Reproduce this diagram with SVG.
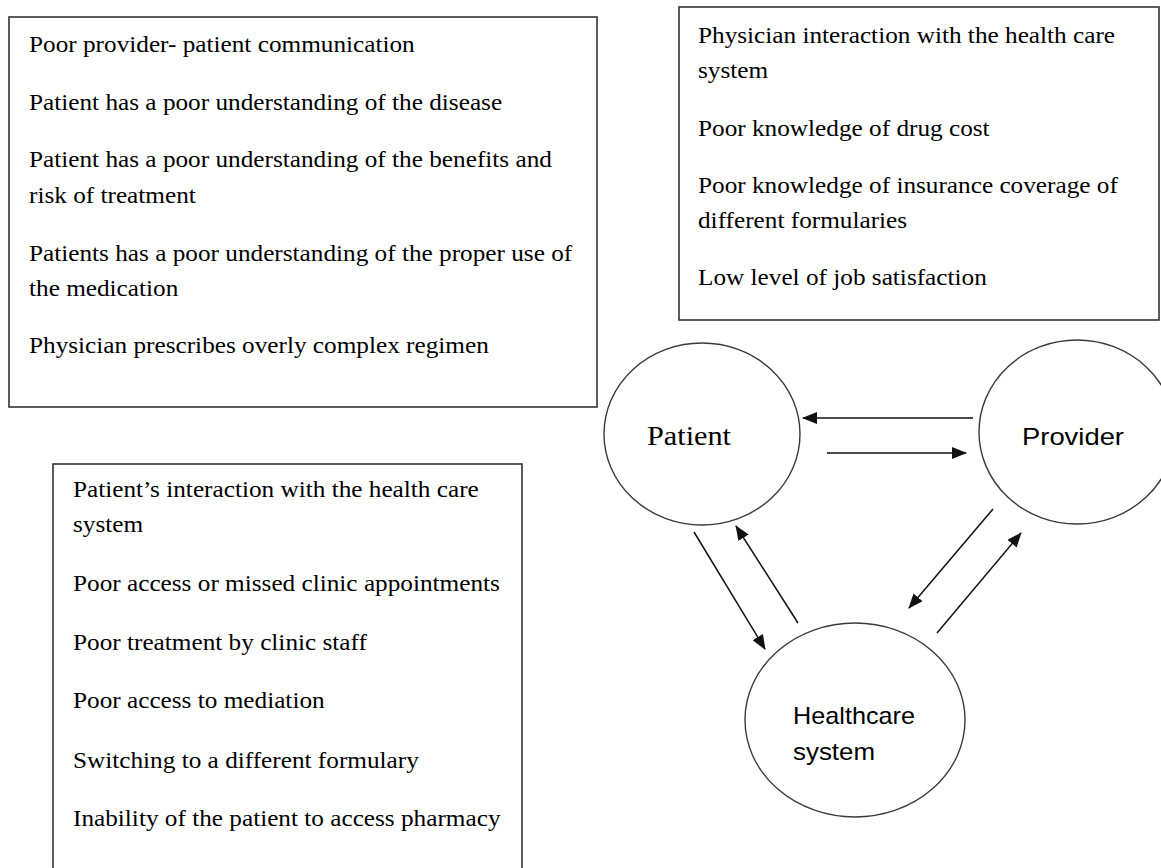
<svg xmlns="http://www.w3.org/2000/svg" width="1161" height="868" viewBox="0 0 1161 868">
<style>
.box{fill:#fff;stroke:#333;stroke-width:1.6}
.node{fill:#fff;stroke:#3a3a3a;stroke-width:1.4}
.t{font-family:"Liberation Serif","Times New Roman",serif;font-size:23.5px;fill:#000}
.lab{font-family:"Liberation Serif","Times New Roman",serif;font-size:27px;fill:#000}
.sans{font-family:"Liberation Sans",Arial,sans-serif;font-size:24px;fill:#000}
.conn{stroke:#111;stroke-width:1.5;fill:none;marker-end:url(#ah)}
</style>
<defs>
<marker id="ah" markerWidth="15" markerHeight="12" refX="14" refY="6" orient="auto" markerUnits="userSpaceOnUse">
<path d="M0,0 L15,6 L0,12 Z" fill="#111"/>
</marker>
</defs>
<rect width="1161" height="868" fill="#fff"/>
<g id="box-patient-provider">
<rect class="box" x="9" y="17" width="588" height="390"/>
<g transform="translate(29,0) scale(1.075,1)">
<text class="t" x="0" y="52">Poor provider- patient communication</text>
<text class="t" x="0" y="110">Patient has a poor understanding of the disease</text>
<text class="t" x="0" y="167">Patient has a poor understanding of the benefits and</text>
<text class="t" x="0" y="203">risk of treatment</text>
<text class="t" x="0" y="261">Patients has a poor understanding of the proper use of</text>
<text class="t" x="0" y="296">the medication</text>
<text class="t" x="0" y="353">Physician prescribes overly complex regimen</text>
</g>
</g>
<g id="box-physician">
<rect class="box" x="679" y="7" width="480" height="313"/>
<g transform="translate(698,0) scale(1.075,1)">
<text class="t" x="0" y="43">Physician interaction with the health care</text>
<text class="t" x="0" y="78">system</text>
<text class="t" x="0" y="136">Poor knowledge of drug cost</text>
<text class="t" x="0" y="193">Poor knowledge of insurance coverage of</text>
<text class="t" x="0" y="228">different formularies</text>
<text class="t" x="0" y="285">Low level of job satisfaction</text>
</g>
</g>
<g id="box-patient-system">
<rect class="box" x="53" y="464" width="469" height="420"/>
<g transform="translate(73,0) scale(1.075,1)">
<text class="t" x="0" y="497">Patient’s interaction with the health care</text>
<text class="t" x="0" y="532">system</text>
<text class="t" x="0" y="591">Poor access or missed clinic appointments</text>
<text class="t" x="0" y="650">Poor treatment by clinic staff</text>
<text class="t" x="0" y="708">Poor access to mediation</text>
<text class="t" x="0" y="768">Switching to a different formulary</text>
<text class="t" x="0" y="826">Inability of the patient to access pharmacy</text>
</g>
</g>
<g id="node-patient">
<ellipse class="node" cx="702" cy="434" rx="98" ry="91"/>
<text class="lab" x="647" y="445" textLength="84" lengthAdjust="spacingAndGlyphs">Patient</text>
</g>
<g id="node-provider">
<ellipse class="node" cx="1077" cy="432" rx="98" ry="92"/>
<text class="sans" x="1022" y="445" textLength="102" lengthAdjust="spacingAndGlyphs">Provider</text>
</g>
<g id="node-healthcare">
<ellipse class="node" cx="855" cy="720" rx="110" ry="97"/>
<text class="sans" x="793" y="724" textLength="122" lengthAdjust="spacingAndGlyphs">Healthcare</text>
<text class="sans" x="793" y="760" textLength="82" lengthAdjust="spacingAndGlyphs">system</text>
</g>
<g id="connectors">
<line class="conn" x1="973" y1="418" x2="803" y2="418"/>
<line class="conn" x1="827" y1="453" x2="966" y2="453"/>
<line class="conn" x1="694" y1="532" x2="765" y2="649"/>
<line class="conn" x1="798" y1="623" x2="736" y2="526"/>
<line class="conn" x1="993" y1="509" x2="909" y2="608"/>
<line class="conn" x1="937" y1="633" x2="1021" y2="533"/>
</g>
</svg>
